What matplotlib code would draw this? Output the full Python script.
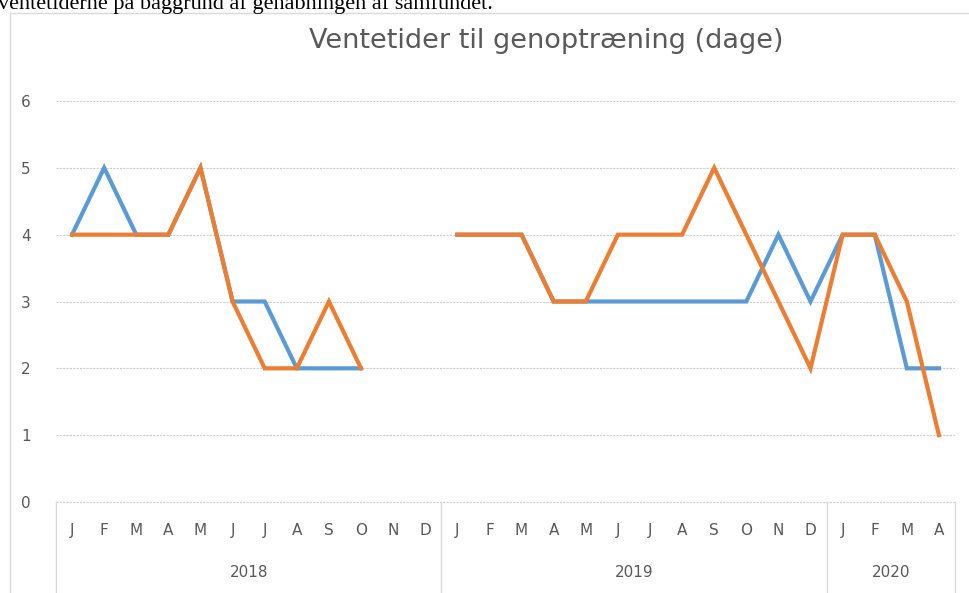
import numpy as np
import matplotlib.pyplot as plt
import matplotlib.transforms as mtransforms
from matplotlib.patches import Rectangle

# Data
months = ["J", "F", "M", "A", "M", "J", "J", "A", "S", "O", "N", "D",
          "J", "F", "M", "A", "M", "J", "J", "A", "S", "O", "N", "D",
          "J", "F", "M", "A"]
years = ["2018", "2019", "2020"]
year_counts = [12, 12, 4]
nan = np.nan
blue = [4, 5, 4, 4, 5, 3, 3, 2, 2, 2, nan, nan,
        4, 4, 4, 3, 3, 3, 3, 3, 3, 3, 4, 3,
        4, 4, 2, 2]
orange = [4, 4, 4, 4, 5, 3, 2, 2, 3, 2, nan, nan,
          4, 4, 4, 3, 3, 4, 4, 4, 5, 4, 3, 2,
          4, 4, 3, 1]
title = "Ventetider til genoptræning (dage)"
above_text = "ventetiderne på baggrund af genåbningen af samfundet."

grey = "#595959"
W, H = 970, 593
fig = plt.figure(figsize=(W / 100, H / 100), dpi=100)

# Chart frame and the cropped document line above it
fig.patches.append(Rectangle((10 / W, -0.1), 1.0, 1 - 13 / H + 0.1,
                             transform=fig.transFigure, fill=False,
                             edgecolor="#D9D9D9", lw=1))
fig.text(-0.002, 1 - 9 / H, above_text, family="Liberation Serif",
         fontsize=16, color="black", va="baseline", ha="left")

ax = fig.add_axes([56 / W, 1 - 502 / H, (955 - 56) / W, (502 - 101) / H])
x = np.arange(len(months))
ax.plot(x, blue, color="#5B9BD5", lw=3, solid_joinstyle="miter")
ax.plot(x, orange, color="#ED7D31", lw=3, solid_joinstyle="miter")

ax.set_xlim(-0.5, len(months) - 0.5)
ax.set_ylim(0, 6)
ax.set_yticks(range(7))
ax.yaxis.grid(True, color="#CFCFCF", ls=(0, (2, 1)), lw=0.8)
ax.axhline(0, color="#CFCFCF", ls=(0, (2, 1)), lw=0.8, clip_on=False,
           zorder=0)
ax.set_axisbelow(True)
for s in ax.spines.values():
    s.set_visible(False)
ax.tick_params(axis="y", length=0, pad=18, labelsize=11, labelcolor=grey)
ax.set_xticks([])

ax.set_title(title, fontsize=19.5, color=grey, pad=38, x=0.545)

# Category axis: months and years
trans = mtransforms.blended_transform_factory(ax.transData, ax.transAxes)
for i, m in enumerate(months):
    ax.text(i, -0.072, m, transform=trans, ha="center", va="center",
            fontsize=11, color=grey)
start = -0.5
bounds = [start]
for yr, n in zip(years, year_counts):
    ax.text(start + n / 2, -0.175, yr, transform=trans, ha="center",
            va="center", fontsize=11, color=grey)
    start += n
    bounds.append(start)
for b in bounds:
    ax.plot([b, b], [0, -0.3], transform=trans, color="#D9D9D9", lw=1,
            clip_on=False)

plt.savefig("out.png", dpi=100)
